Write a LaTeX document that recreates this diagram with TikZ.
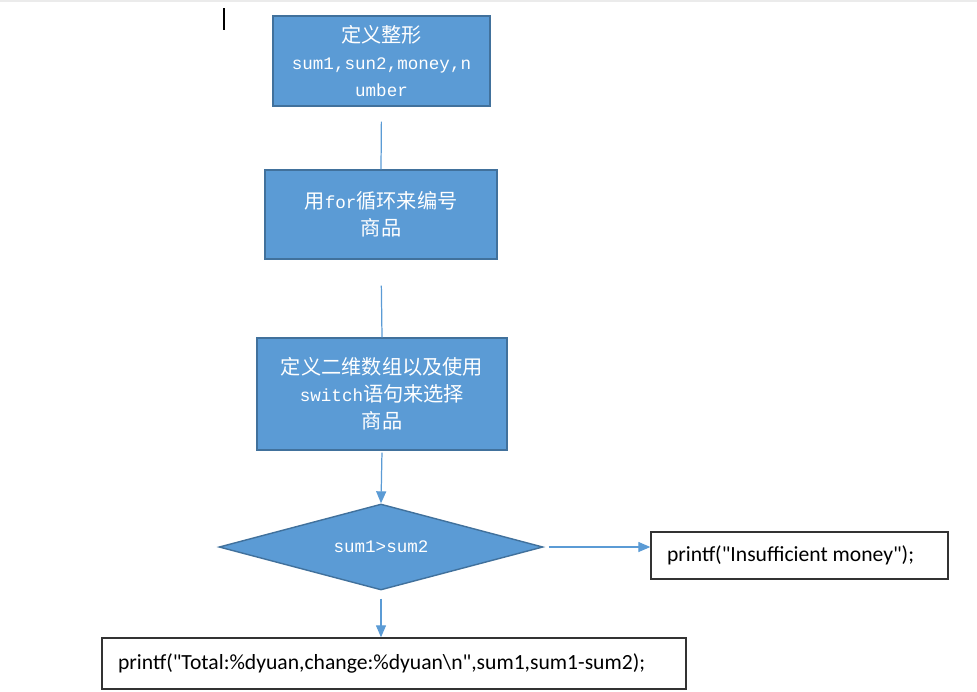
\documentclass[tikz,border=0pt]{standalone}
\usepackage{fontspec}
\setmainfont{Carlito}[Ligatures=TeXOff]
\setmonofont{Liberation Mono}[Scale=0.87]
\newfontfamily\cjk{Noto Sans CJK SC}
\usetikzlibrary{shapes.geometric,arrows.meta}
\definecolor{stepblue}{HTML}{5B9BD5}
\definecolor{stepedge}{HTML}{41719C}
\newcommand{\zh}[1]{{\cjk #1}}

\begin{document}
\begin{tikzpicture}[
        x=0.02cm, y=-0.02cm,
        flow box/.style={rectangle, draw=stepedge, line width=0.8pt, fill=stepblue, text=white,
            align=center, inner sep=0pt, font=\ttfamily\fontsize{11.5}{15.3}\selectfont},
        decision/.style={diamond, aspect=3.77, draw=stepedge, line width=0.8pt, fill=stepblue, text=white,
            inner sep=0pt, font=\ttfamily\fontsize{11.5}{15.3}\selectfont},
        out box/.style={rectangle, draw=black!80, line width=0.8pt, fill=white, align=flush left,
            inner xsep=0.32cm, inner ysep=0pt, font=\fontsize{12.3}{14}\selectfont},
        flow line/.style={draw=stepblue, line width=0.7pt},
        flow arrow/.style={flow line, -{Triangle[length=0.24cm, width=0.2cm]}}
    ]
	\useasboundingbox (0,0) rectangle (977,691);
	\draw[black!8, line width=1.5pt] (0,1) -- (977,1);
	\draw[line width=0.9pt] (224,8) -- (224,30);

	\node[flow box, minimum width=4.34cm, minimum height=1.8cm] (defint) at (381.5,61)
		{\zh{定义整形}\\sum1,sun2,money,n\\umber};
	\node[flow box, minimum width=4.64cm, minimum height=1.78cm] (forloop) at (381,214.5)
		{\zh{用}for\zh{循环来编号}\\\zh{商品}};
	\node[flow box, minimum width=5cm, minimum height=2.24cm] (arrsw) at (382,394)
		{\zh{定义二维数组以及使用}\\switch\zh{语句来选择}\\\zh{商品}};
	\node[decision, minimum width=6.48cm, minimum height=1.72cm] (cmp) at (381,547) {sum1>sum2};
	\node[out box, text width=5.3cm, minimum height=0.94cm] (short) at (799.5,555.5)
		{printf("Insufficient money");};
	\node[out box, text width=11.04cm, minimum height=1.02cm] (total) at (394,663.5)
		{printf("Total:\%dyuan,change:\%dyuan\textbackslash n",sum1,sum1-sum2);};

	\draw[flow line, shorten <=0.3cm] (defint.south) -- (forloop.north);
	\draw[flow line, shorten <=0.52cm] (forloop.south) -- (arrsw.north);
	\draw[flow arrow, shorten <=0.04cm] (arrsw.south) -- (cmp.north);
	\draw[flow arrow, shorten <=0.1cm] (cmp.east) -- (cmp.east -| short.west);
	\draw[flow arrow, shorten <=0.16cm] (cmp.south) -- (cmp.south |- total.north);
\end{tikzpicture}
\end{document}
